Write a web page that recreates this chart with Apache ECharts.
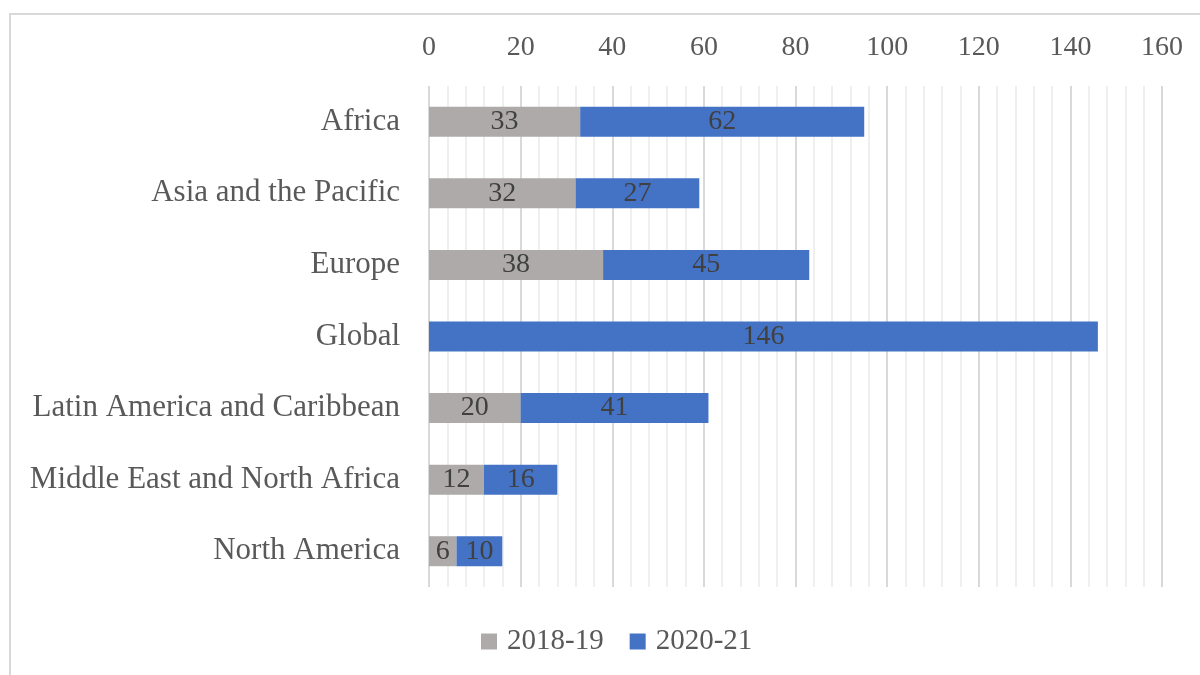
<!DOCTYPE html>
<html>
<head>
<meta charset="utf-8">
<script src="https://cdn.jsdelivr.net/npm/echarts@6/dist/echarts.min.js"></script>
<style>
  html, body { margin: 0; padding: 0; background: #fff; }
  #chart { width: 1200px; height: 675px; }
</style>
</head>
<body>
<div id="chart"></div>
<script>
const regions = [
  'Africa',
  'Asia and the Pacific',
  'Europe',
  'Global',
  'Latin America and Caribbean',
  'Middle East and North Africa',
  'North America'
]
const values2018 = [33, 32, 38, null, 20, 12, 6]
const values2020 = [62, 27, 45, 146, 41, 16, 10]
const seriesNames = ['2018-19', '2020-21']

const font = '"Liberation Serif", "DejaVu Serif", serif'
const chart = echarts.init(document.getElementById('chart'))

const labelStyle = {
  show: true,
  position: 'inside',
  color: '#404040',
  fontFamily: font,
  fontSize: 28
}

chart.setOption({
  animation: false,
  textStyle: { fontFamily: font },
  graphic: [
    {
      type: 'rect',
      shape: { x: 10, y: 14, width: 1210, height: 700 },
      style: { fill: 'none', stroke: '#d9d9d9', lineWidth: 2 },
      silent: true
    }
  ],
  legend: {
    bottom: 14,
    left: 476,
    itemWidth: 16,
    itemHeight: 16,
    itemGap: 26,
    icon: 'rect',
    textStyle: { color: '#595959', fontSize: 29, fontFamily: font, padding: [0, 0, 0, 5] },
    data: seriesNames
  },
  grid: {
    left: 429,
    right: 38,
    top: 86,
    bottom: 88
  },
  xAxis: {
    type: 'value',
    position: 'top',
    min: 0,
    max: 160,
    interval: 20,
    axisLine: { show: false },
    axisTick: { show: false },
    axisLabel: { color: '#595959', fontSize: 28, fontFamily: font, margin: 24 },
    splitLine: { lineStyle: { color: '#d9d9d9', width: 2 } },
    minorTick: { show: false, splitNumber: 5 },
    minorSplitLine: { show: true, lineStyle: { color: '#efefef', width: 2 } }
  },
  yAxis: {
    type: 'category',
    inverse: true,
    data: regions,
    axisLine: { show: false },
    axisTick: { show: false },
    axisLabel: { color: '#595959', fontSize: 31, fontFamily: font, margin: 29 }
  },
  series: [
    {
      name: seriesNames[0],
      type: 'bar',
      stack: 'total',
      barWidth: 30,
      data: values2018,
      itemStyle: { color: '#aeaaaa' },
      label: labelStyle
    },
    {
      name: seriesNames[1],
      type: 'bar',
      stack: 'total',
      barWidth: 30,
      data: values2020,
      itemStyle: { color: '#4472c4' },
      label: labelStyle
    }
  ]
})
</script>
</body>
</html>
